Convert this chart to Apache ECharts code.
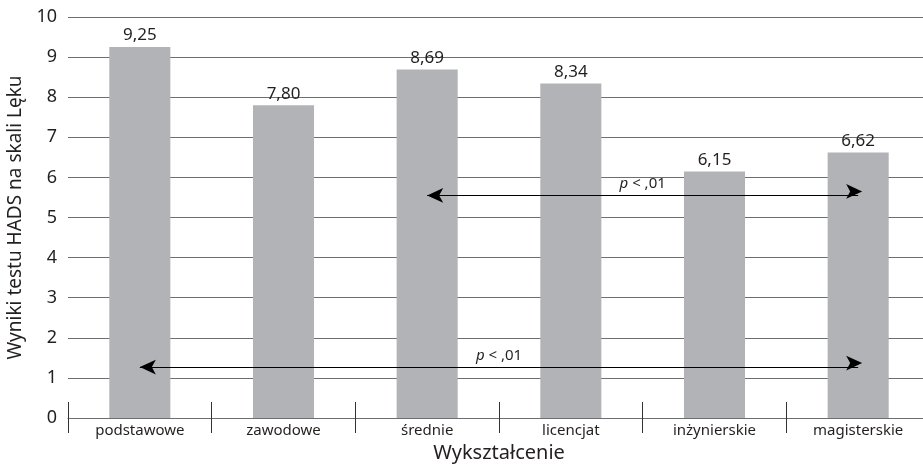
<!DOCTYPE html>
<html>
<head>
<meta charset="utf-8">
<script src="https://cdn.jsdelivr.net/npm/echarts@6/dist/echarts.min.js"></script>
<style>
  html, body { margin: 0; padding: 0; background: #ffffff; }
  #chart { width: 923px; height: 464px; }
</style>
</head>
<body>
<div id="chart"></div>
<script>
// Poziom wykształcenia i średni wynik lęku (HADS)
const categories = ['podstawowe', 'zawodowe', 'średnie', 'licencjat', 'inżynierskie', 'magisterskie'];
const anxietyScores = [9.25, 7.80, 8.69, 8.34, 6.15, 6.62];
const yTicks = [0, 1, 2, 3, 4, 5, 6, 7, 8, 9, 10];
// Porównania istotne statystycznie: [od kategorii, do kategorii, wysokość strzałki, opis]
const comparisons = [
  ['podstawowe', 'magisterskie', 1.27, 'p < ,01'],
  ['średnie', 'magisterskie', 5.55, 'p < ,01']
];

const TEXT = '#231f20';
const GRID = '#6d6e71';
const FONT = '"Noto Sans", "Open Sans", sans-serif';

const fmt = v => v.toFixed(2).replace('.', ',');

const chart = echarts.init(document.getElementById('chart'), null, { renderer: 'canvas' });

chart.setOption({
  animation: false,
  backgroundColor: '#ffffff',
  grid: {
    left: 68, top: 17, width: 862, height: 401,
    containLabel: false,
    outerBoundsMode: 'none'
  },
  xAxis: [
    {
      type: 'category',
      data: categories,
      boundaryGap: true,
      name: 'Wykształcenie',
      nameLocation: 'middle',
      nameGap: 21,
      nameTextStyle: { fontFamily: FONT, fontSize: 20, color: TEXT },
      axisLine: { show: true, lineStyle: { color: GRID, width: 1 } },
      axisTick: { show: true, inside: false, length: 15, lineStyle: { color: '#333333', width: 1 } },
      axisLabel: { margin: 5, fontFamily: FONT, fontSize: 15, color: TEXT },
      splitLine: { show: false }
    },
    {
      // krótkie kreski nad osią, przedłużające podziały kategorii
      type: 'category',
      data: categories,
      position: 'bottom',
      boundaryGap: true,
      axisLine: { show: false },
      axisTick: { show: true, inside: true, length: 16, lineStyle: { color: '#333333', width: 1 } },
      axisLabel: { show: false },
      splitLine: { show: false }
    }
  ],
  yAxis: {
    type: 'value',
    min: yTicks[0],
    max: yTicks[yTicks.length - 1],
    interval: 1,
    name: 'Wyniki testu HADS na skali Lęku',
    nameLocation: 'middle',
    nameGap: 41,
    nameTextStyle: { fontFamily: FONT, fontSize: 19, color: TEXT },
    axisLine: { show: false },
    axisTick: { show: false },
    axisLabel: {
      margin: 11,
      fontFamily: FONT,
      fontSize: 18,
      color: TEXT,
      formatter: v => (yTicks.includes(v) ? String(v) : '')
    },
    splitLine: { show: true, lineStyle: { color: GRID, width: 1 } }
  },
  series: [
    {
      type: 'bar',
      data: anxietyScores,
      barWidth: '42.5%',
      itemStyle: { color: '#b1b3b6' },
      label: {
        show: true,
        position: 'top',
        distance: 3,
        fontFamily: FONT,
        fontSize: 17,
        color: TEXT,
        formatter: p => fmt(p.value)
      },
      markLine: {
        silent: true,
        symbol: ['arrow', 'arrow'],
        symbolSize: [11, 16],
        symbolOffset: [0, -4],
        lineStyle: { color: '#000000', width: 1, type: 'solid' },
        label: {
          show: true,
          position: 'middle',
          distance: 4,
          fontFamily: FONT,
          fontSize: 15,
          color: TEXT,
          formatter: p => '{i|p}' + p.name.slice(1),
          rich: {
            i: { fontFamily: FONT, fontSize: 15, fontStyle: 'italic', color: TEXT }
          }
        },
        data: comparisons.map(c => [
          { name: c[3], coord: [c[0], c[2]] },
          { coord: [c[1], c[2]] }
        ])
      }
    }
  ]
});
</script>
</body>
</html>
